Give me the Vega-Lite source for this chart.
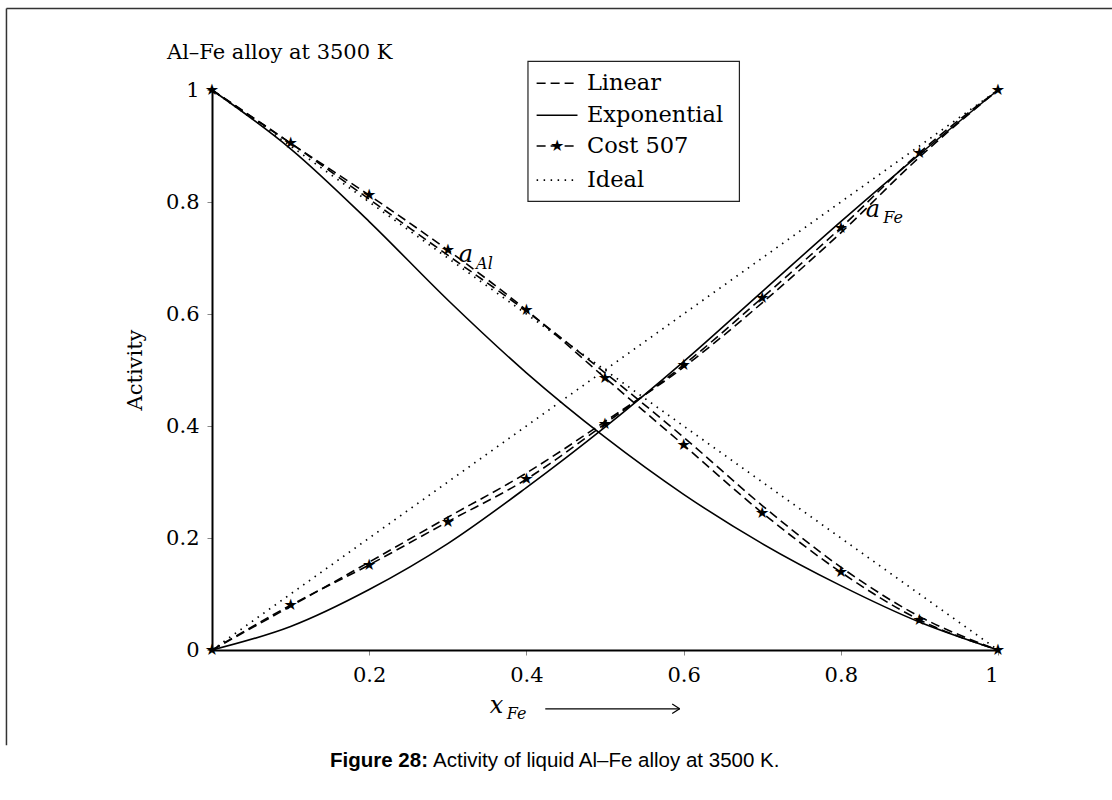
{
  "$schema": "https://vega.github.io/schema/vega-lite/v6.json",
  "width": 786,
  "height": 560,
  "autosize": {"type": "none"},
  "padding": {"left": 212, "top": 90, "right": 114, "bottom": 150},
  "background": "white",
  "config": {"view": {"stroke": null}},
  "datasets": {
    "curves": [
      {"series": "Linear", "comp": "Al", "x": 0, "y": 1},
      {"series": "Linear", "comp": "Al", "x": 0.1, "y": 0.905},
      {"series": "Linear", "comp": "Al", "x": 0.2, "y": 0.805},
      {"series": "Linear", "comp": "Al", "x": 0.3, "y": 0.705},
      {"series": "Linear", "comp": "Al", "x": 0.4, "y": 0.605},
      {"series": "Linear", "comp": "Al", "x": 0.5, "y": 0.495},
      {"series": "Linear", "comp": "Al", "x": 0.6, "y": 0.38},
      {"series": "Linear", "comp": "Al", "x": 0.7, "y": 0.258},
      {"series": "Linear", "comp": "Al", "x": 0.8, "y": 0.148},
      {"series": "Linear", "comp": "Al", "x": 0.9, "y": 0.06},
      {"series": "Linear", "comp": "Al", "x": 1, "y": 0},
      {"series": "Linear", "comp": "Fe", "x": 0, "y": 0},
      {"series": "Linear", "comp": "Fe", "x": 0.1, "y": 0.078},
      {"series": "Linear", "comp": "Fe", "x": 0.2, "y": 0.157},
      {"series": "Linear", "comp": "Fe", "x": 0.3, "y": 0.237},
      {"series": "Linear", "comp": "Fe", "x": 0.4, "y": 0.316},
      {"series": "Linear", "comp": "Fe", "x": 0.5, "y": 0.408},
      {"series": "Linear", "comp": "Fe", "x": 0.6, "y": 0.505},
      {"series": "Linear", "comp": "Fe", "x": 0.7, "y": 0.62},
      {"series": "Linear", "comp": "Fe", "x": 0.8, "y": 0.745},
      {"series": "Linear", "comp": "Fe", "x": 0.9, "y": 0.88},
      {"series": "Linear", "comp": "Fe", "x": 1, "y": 1},
      {"series": "Exponential", "comp": "Al", "x": 0, "y": 1},
      {"series": "Exponential", "comp": "Al", "x": 0.1, "y": 0.895},
      {"series": "Exponential", "comp": "Al", "x": 0.2, "y": 0.765},
      {"series": "Exponential", "comp": "Al", "x": 0.3, "y": 0.625},
      {"series": "Exponential", "comp": "Al", "x": 0.4, "y": 0.495},
      {"series": "Exponential", "comp": "Al", "x": 0.5, "y": 0.38},
      {"series": "Exponential", "comp": "Al", "x": 0.6, "y": 0.278},
      {"series": "Exponential", "comp": "Al", "x": 0.7, "y": 0.19},
      {"series": "Exponential", "comp": "Al", "x": 0.8, "y": 0.115},
      {"series": "Exponential", "comp": "Al", "x": 0.9, "y": 0.05},
      {"series": "Exponential", "comp": "Al", "x": 1, "y": 0},
      {"series": "Exponential", "comp": "Fe", "x": 0, "y": 0},
      {"series": "Exponential", "comp": "Fe", "x": 0.1, "y": 0.042},
      {"series": "Exponential", "comp": "Fe", "x": 0.2, "y": 0.108},
      {"series": "Exponential", "comp": "Fe", "x": 0.3, "y": 0.19},
      {"series": "Exponential", "comp": "Fe", "x": 0.4, "y": 0.29},
      {"series": "Exponential", "comp": "Fe", "x": 0.5, "y": 0.398},
      {"series": "Exponential", "comp": "Fe", "x": 0.6, "y": 0.515},
      {"series": "Exponential", "comp": "Fe", "x": 0.7, "y": 0.64},
      {"series": "Exponential", "comp": "Fe", "x": 0.8, "y": 0.765},
      {"series": "Exponential", "comp": "Fe", "x": 0.9, "y": 0.885},
      {"series": "Exponential", "comp": "Fe", "x": 1, "y": 1},
      {"series": "Cost 507", "comp": "Al", "x": 0, "y": 1},
      {"series": "Cost 507", "comp": "Al", "x": 0.1, "y": 0.905},
      {"series": "Cost 507", "comp": "Al", "x": 0.2, "y": 0.812},
      {"series": "Cost 507", "comp": "Al", "x": 0.3, "y": 0.714},
      {"series": "Cost 507", "comp": "Al", "x": 0.4, "y": 0.607},
      {"series": "Cost 507", "comp": "Al", "x": 0.5, "y": 0.486},
      {"series": "Cost 507", "comp": "Al", "x": 0.6, "y": 0.366},
      {"series": "Cost 507", "comp": "Al", "x": 0.7, "y": 0.245},
      {"series": "Cost 507", "comp": "Al", "x": 0.8, "y": 0.139},
      {"series": "Cost 507", "comp": "Al", "x": 0.9, "y": 0.054},
      {"series": "Cost 507", "comp": "Al", "x": 1, "y": 0},
      {"series": "Cost 507", "comp": "Fe", "x": 0, "y": 0},
      {"series": "Cost 507", "comp": "Fe", "x": 0.1, "y": 0.08},
      {"series": "Cost 507", "comp": "Fe", "x": 0.2, "y": 0.152},
      {"series": "Cost 507", "comp": "Fe", "x": 0.3, "y": 0.229},
      {"series": "Cost 507", "comp": "Fe", "x": 0.4, "y": 0.305},
      {"series": "Cost 507", "comp": "Fe", "x": 0.5, "y": 0.404},
      {"series": "Cost 507", "comp": "Fe", "x": 0.6, "y": 0.509},
      {"series": "Cost 507", "comp": "Fe", "x": 0.7, "y": 0.629},
      {"series": "Cost 507", "comp": "Fe", "x": 0.8, "y": 0.754},
      {"series": "Cost 507", "comp": "Fe", "x": 0.9, "y": 0.888},
      {"series": "Cost 507", "comp": "Fe", "x": 1, "y": 1},
      {"series": "Ideal", "comp": "Al", "x": 0, "y": 1},
      {"series": "Ideal", "comp": "Al", "x": 1, "y": 0},
      {"series": "Ideal", "comp": "Fe", "x": 0, "y": 0},
      {"series": "Ideal", "comp": "Fe", "x": 1, "y": 1}
    ],
    "legendbox": [{"x": 0.402, "x2": 0.671, "y": 1.051, "y2": 0.801}],
    "legendrows": [
      {"series": "Linear", "x": 0.413, "x2": 0.465, "xm": 0.439, "xt": 0.477, "y": 1.012},
      {"series": "Exponential", "x": 0.413, "x2": 0.465, "xm": 0.439, "xt": 0.477, "y": 0.955},
      {"series": "Cost 507", "x": 0.413, "x2": 0.465, "xm": 0.439, "xt": 0.477, "y": 0.9},
      {"series": "Ideal", "x": 0.413, "x2": 0.465, "xm": 0.439, "xt": 0.477, "y": 0.839}
    ],
    "frame": [
      {"x": -0.2615, "x2": 1.145, "y": 1.1455, "y2": 1.1455},
      {"x": -0.2615, "x2": -0.2615, "y": 1.1455, "y2": -0.17}
    ],
    "texts": [
      {"role": "title", "t": "Al–Fe alloy at 3500 K", "x": -0.0573, "y": 1.066},
      {"role": "ylabel", "t": "Activity", "x": -0.0967, "y": 0.5},
      {"role": "sym", "t": "a", "x": 0.323, "y": 0.705},
      {"role": "sub", "t": "Al", "x": 0.336, "y": 0.69},
      {"role": "sym", "t": "a", "x": 0.841, "y": 0.786},
      {"role": "sub", "t": "Fe", "x": 0.854, "y": 0.771},
      {"role": "sym", "t": "x", "x": 0.362, "y": -0.1},
      {"role": "sub", "t": "Fe", "x": 0.375, "y": -0.115},
      {"role": "capbold", "t": "Figure 28:", "x": 0.2748, "y": -0.198},
      {"role": "cap", "t": "Activity of liquid Al–Fe alloy at 3500 K.", "x": 0.2812, "y": -0.198}
    ],
    "arrow": [
      {"x": 0.424, "x2": 0.595, "y": -0.105, "y2": -0.105},
      {"x": 0.5855, "x2": 0.595, "y": -0.0965, "y2": -0.105},
      {"x": 0.5855, "x2": 0.595, "y": -0.1135, "y2": -0.105}
    ]
  },
  "layer": [
    {
      "data": {"name": "texts"},
      "transform": [{"filter": "datum.role === 'title'"}],
      "mark": {"type": "text", "font": "DejaVu Serif", "fontSize": 21, "align": "left", "baseline": "middle", "fill": "black"},
      "encoding": {
        "x": {
          "field": "x", "type": "quantitative",
          "scale": {"domain": [0, 1], "nice": false, "zero": false},
          "axis": {
            "values": [0.2, 0.4, 0.6, 0.8, 1], "format": "~g", "title": null, "grid": false,
            "domainColor": "black", "domainWidth": 2, "tickColor": "#888", "tickSize": 5, "tickWidth": 1,
            "labelFont": "DejaVu Serif", "labelFontSize": 21, "labelColor": "black", "labelPadding": 9
          }
        },
        "y": {
          "field": "y", "type": "quantitative",
          "scale": {"domain": [0, 1], "nice": false, "zero": false},
          "axis": {
            "values": [0, 0.2, 0.4, 0.6, 0.8, 1], "format": "~g", "title": null, "grid": false,
            "domainColor": "black", "domainWidth": 2, "tickColor": "#888", "tickSize": 5, "tickWidth": 1,
            "labelFont": "DejaVu Serif", "labelFontSize": 21, "labelColor": "black", "labelPadding": 8
          }
        },
        "text": {"field": "t", "type": "nominal"}
      }
    },
    {
      "data": {"name": "frame"},
      "mark": {"type": "rule", "stroke": "#333", "strokeWidth": 1.5},
      "encoding": {
        "x": {"field": "x", "type": "quantitative"},
        "x2": {"field": "x2"},
        "y": {"field": "y", "type": "quantitative"},
        "y2": {"field": "y2"}
      }
    },
    {
      "data": {"name": "curves"},
      "transform": [{"filter": "datum.series === 'Ideal'"}],
      "mark": {"type": "line", "stroke": "black", "strokeWidth": 1.7, "strokeDash": [1.5, 5.5]},
      "encoding": {
        "x": {"field": "x", "type": "quantitative"},
        "y": {"field": "y", "type": "quantitative"},
        "detail": {"field": "comp", "type": "nominal"}
      }
    },
    {
      "data": {"name": "curves"},
      "transform": [{"filter": "datum.series === 'Exponential'"}],
      "mark": {"type": "line", "stroke": "black", "strokeWidth": 1.6, "interpolate": "monotone"},
      "encoding": {
        "x": {"field": "x", "type": "quantitative"},
        "y": {"field": "y", "type": "quantitative"},
        "detail": {"field": "comp", "type": "nominal"}
      }
    },
    {
      "data": {"name": "curves"},
      "transform": [{"filter": "datum.series === 'Linear'"}],
      "mark": {"type": "line", "stroke": "black", "strokeWidth": 1.6, "strokeDash": [9, 5], "interpolate": "monotone"},
      "encoding": {
        "x": {"field": "x", "type": "quantitative"},
        "y": {"field": "y", "type": "quantitative"},
        "detail": {"field": "comp", "type": "nominal"}
      }
    },
    {
      "data": {"name": "curves"},
      "transform": [{"filter": "datum.series === 'Cost 507'"}],
      "mark": {"type": "line", "stroke": "black", "strokeWidth": 1.6, "strokeDash": [9, 5], "interpolate": "monotone"},
      "encoding": {
        "x": {"field": "x", "type": "quantitative"},
        "y": {"field": "y", "type": "quantitative"},
        "detail": {"field": "comp", "type": "nominal"}
      }
    },
    {
      "data": {"name": "curves"},
      "transform": [{"filter": "datum.series === 'Cost 507'"}],
      "mark": {"type": "text", "text": "★", "font": "DejaVu Sans", "fontSize": 16, "align": "center", "baseline": "middle", "fill": "black"},
      "encoding": {
        "x": {"field": "x", "type": "quantitative"},
        "y": {"field": "y", "type": "quantitative"}
      }
    },
    {
      "data": {"name": "texts"},
      "transform": [{"filter": "datum.role === 'ylabel'"}],
      "mark": {"type": "text", "font": "DejaVu Serif", "fontSize": 21, "align": "center", "baseline": "middle", "angle": 270, "fill": "black"},
      "encoding": {"x": {"field": "x", "type": "quantitative"}, "y": {"field": "y", "type": "quantitative"}, "text": {"field": "t", "type": "nominal"}}
    },
    {
      "data": {"name": "texts"},
      "transform": [{"filter": "datum.role === 'sym'"}],
      "mark": {"type": "text", "font": "DejaVu Serif", "fontSize": 24, "fontStyle": "italic", "align": "center", "baseline": "middle", "fill": "black"},
      "encoding": {"x": {"field": "x", "type": "quantitative"}, "y": {"field": "y", "type": "quantitative"}, "text": {"field": "t", "type": "nominal"}}
    },
    {
      "data": {"name": "texts"},
      "transform": [{"filter": "datum.role === 'sub'"}],
      "mark": {"type": "text", "font": "DejaVu Serif", "fontSize": 16, "fontStyle": "italic", "align": "left", "baseline": "middle", "fill": "black"},
      "encoding": {"x": {"field": "x", "type": "quantitative"}, "y": {"field": "y", "type": "quantitative"}, "text": {"field": "t", "type": "nominal"}}
    },
    {
      "data": {"name": "texts"},
      "transform": [{"filter": "datum.role === 'capbold'"}],
      "mark": {"type": "text", "font": "Liberation Sans", "fontSize": 20.5, "fontWeight": "bold", "align": "right", "baseline": "middle", "fill": "black"},
      "encoding": {"x": {"field": "x", "type": "quantitative"}, "y": {"field": "y", "type": "quantitative"}, "text": {"field": "t", "type": "nominal"}}
    },
    {
      "data": {"name": "texts"},
      "transform": [{"filter": "datum.role === 'cap'"}],
      "mark": {"type": "text", "font": "Liberation Sans", "fontSize": 20.5, "align": "left", "baseline": "middle", "fill": "black"},
      "encoding": {"x": {"field": "x", "type": "quantitative"}, "y": {"field": "y", "type": "quantitative"}, "text": {"field": "t", "type": "nominal"}}
    },
    {
      "data": {"name": "legendbox"},
      "mark": {"type": "rect", "fill": "white", "stroke": "#222", "strokeWidth": 1.2},
      "encoding": {
        "x": {"field": "x", "type": "quantitative"},
        "x2": {"field": "x2"},
        "y": {"field": "y", "type": "quantitative"},
        "y2": {"field": "y2"}
      }
    },
    {
      "data": {"name": "legendrows"},
      "transform": [{"filter": "datum.series === 'Linear' || datum.series === 'Cost 507'"}],
      "mark": {"type": "rule", "stroke": "black", "strokeWidth": 1.6, "strokeDash": [9, 5]},
      "encoding": {
        "x": {"field": "x", "type": "quantitative"},
        "x2": {"field": "x2"},
        "y": {"field": "y", "type": "quantitative"}
      }
    },
    {
      "data": {"name": "legendrows"},
      "transform": [{"filter": "datum.series === 'Exponential'"}],
      "mark": {"type": "rule", "stroke": "black", "strokeWidth": 1.6},
      "encoding": {
        "x": {"field": "x", "type": "quantitative"},
        "x2": {"field": "x2"},
        "y": {"field": "y", "type": "quantitative"}
      }
    },
    {
      "data": {"name": "legendrows"},
      "transform": [{"filter": "datum.series === 'Ideal'"}],
      "mark": {"type": "rule", "stroke": "black", "strokeWidth": 1.7, "strokeDash": [1.5, 5.5]},
      "encoding": {
        "x": {"field": "x", "type": "quantitative"},
        "x2": {"field": "x2"},
        "y": {"field": "y", "type": "quantitative"}
      }
    },
    {
      "data": {"name": "legendrows"},
      "transform": [{"filter": "datum.series === 'Cost 507'"}],
      "mark": {"type": "text", "text": "★", "font": "DejaVu Sans", "fontSize": 16, "align": "center", "baseline": "middle", "fill": "black"},
      "encoding": {
        "x": {"field": "xm", "type": "quantitative"},
        "y": {"field": "y", "type": "quantitative"}
      }
    },
    {
      "data": {"name": "legendrows"},
      "mark": {"type": "text", "font": "DejaVu Serif", "fontSize": 22.5, "align": "left", "baseline": "middle", "fill": "black"},
      "encoding": {
        "x": {"field": "xt", "type": "quantitative"},
        "y": {"field": "y", "type": "quantitative"},
        "text": {"field": "series", "type": "nominal"}
      }
    },
    {
      "data": {"name": "arrow"},
      "mark": {"type": "rule", "stroke": "black", "strokeWidth": 1.2},
      "encoding": {
        "x": {"field": "x", "type": "quantitative"},
        "x2": {"field": "x2"},
        "y": {"field": "y", "type": "quantitative"},
        "y2": {"field": "y2"}
      }
    }
  ]
}
